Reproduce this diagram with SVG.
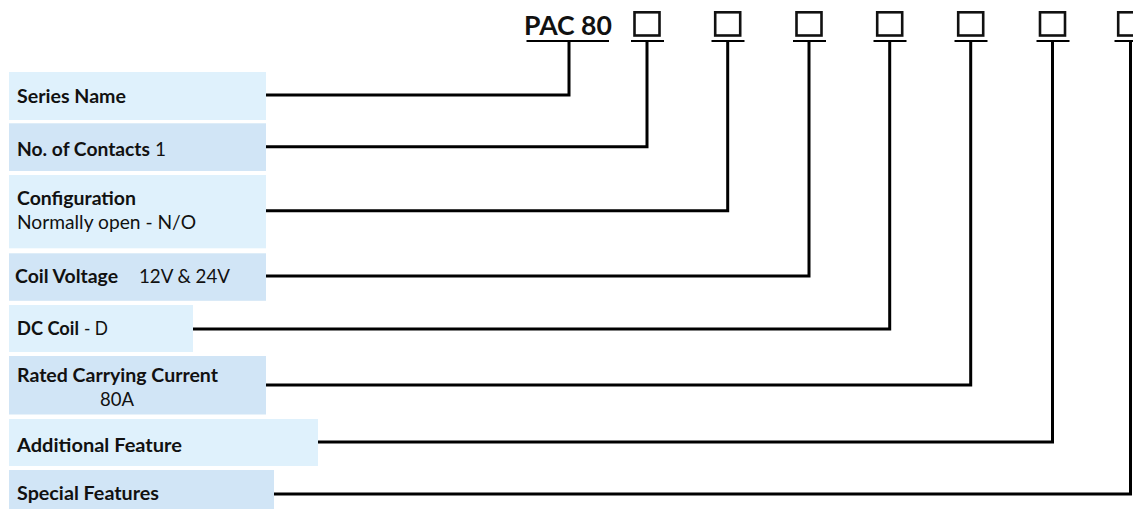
<svg xmlns="http://www.w3.org/2000/svg" width="1133" height="509" viewBox="0 0 1133 509">
<style>
.lt{fill:#dff1fc}
.dk{fill:#d1e5f6}
.t{font-family:Lato,"Open Sans","Liberation Sans",sans-serif;font-size:19px;fill:#111}
.b{font-weight:bold}
.title{font-family:Lato,"Open Sans","Liberation Sans",sans-serif;font-size:27px;font-weight:bold;fill:#111}
.conn{fill:none;stroke:#000;stroke-width:3}
.ul{stroke:#000;stroke-width:2}
.sq{fill:none;stroke:#111;stroke-width:2.6}
</style>
<rect width="1133" height="509" fill="#fff"/>
<g id="code">
<text class="title" x="524" y="35" textLength="88" lengthAdjust="spacingAndGlyphs">PAC 80</text>
<line class="ul" x1="526.5" y1="41" x2="609" y2="41"/>
<g id="slots">
<rect class="sq" x="634.5" y="12.3" width="25" height="23.2"/>
<rect class="sq" x="715.2" y="12.3" width="25" height="23.2"/>
<rect class="sq" x="796.5" y="12.3" width="25" height="23.2"/>
<rect class="sq" x="877.2" y="12.3" width="25" height="23.2"/>
<rect class="sq" x="958.2" y="12.3" width="25" height="23.2"/>
<rect class="sq" x="1040" y="12.3" width="25" height="23.2"/>
<rect class="sq" x="1118.2" y="12.3" width="25" height="23.2"/>
<line class="ul" x1="631" y1="41" x2="664" y2="41"/>
<line class="ul" x1="711.5" y1="41" x2="744.5" y2="41"/>
<line class="ul" x1="793" y1="41" x2="826" y2="41"/>
<line class="ul" x1="873.5" y1="41" x2="906.5" y2="41"/>
<line class="ul" x1="954.5" y1="41" x2="987.5" y2="41"/>
<line class="ul" x1="1036.5" y1="41" x2="1069.5" y2="41"/>
<line class="ul" x1="1114.5" y1="41" x2="1147.5" y2="41"/>
</g>
</g>
<g id="n1"><rect class="lt" x="9" y="72" width="257" height="48"/><text class="t b" x="17" y="103" textLength="109" lengthAdjust="spacingAndGlyphs">Series Name</text></g>
<g id="n2"><rect class="dk" x="9" y="123.3" width="257" height="47.7"/><text class="t b" x="17" y="156" textLength="133" lengthAdjust="spacingAndGlyphs">No. of Contacts</text><text class="t" x="155" y="156">1</text></g>
<g id="n3"><rect class="lt" x="9" y="175" width="257" height="73.3"/><text class="t b" x="17" y="205" textLength="119" lengthAdjust="spacingAndGlyphs">Configuration</text><text class="t" x="17" y="229" textLength="179" lengthAdjust="spacingAndGlyphs">Normally open - N/O</text></g>
<g id="n4"><rect class="dk" x="9" y="253.3" width="257" height="47.5"/><text class="t b" x="15" y="282.5" textLength="103" lengthAdjust="spacingAndGlyphs">Coil Voltage</text><text class="t" x="139" y="282.5" textLength="91" lengthAdjust="spacingAndGlyphs">12V &amp; 24V</text></g>
<g id="n5"><rect class="lt" x="9" y="305" width="184" height="47"/><text class="t b" x="17" y="335" textLength="62" lengthAdjust="spacingAndGlyphs">DC Coil</text><text class="t" x="84" y="335" textLength="24" lengthAdjust="spacingAndGlyphs">- D</text></g>
<g id="n6"><rect class="dk" x="9" y="356" width="257" height="58.5"/><text class="t b" x="17" y="382" textLength="201" lengthAdjust="spacingAndGlyphs">Rated Carrying Current</text><text class="t" x="100" y="406" textLength="34" lengthAdjust="spacingAndGlyphs">80A</text></g>
<g id="n7"><rect class="lt" x="9" y="419" width="309" height="47"/><text class="t b" x="17" y="451.7" textLength="165" lengthAdjust="spacingAndGlyphs">Additional Feature</text></g>
<g id="n8"><rect class="dk" x="9" y="470" width="265" height="39"/><text class="t b" x="17" y="500" textLength="142" lengthAdjust="spacingAndGlyphs">Special Features</text></g>
<g id="connectors">
<path class="conn" d="M266,95 H569 V41"/>
<path class="conn" d="M266,146.7 H647 V41"/>
<path class="conn" d="M266,210.7 H727.7 V41"/>
<path class="conn" d="M266,276 H809 V41"/>
<path class="conn" d="M193,329 H889.7 V41"/>
<path class="conn" d="M266,385 H970.7 V41"/>
<path class="conn" d="M318,442 H1052.5 V41"/>
<path class="conn" d="M274,494 H1130.5 V41"/>
</g>
</svg>
